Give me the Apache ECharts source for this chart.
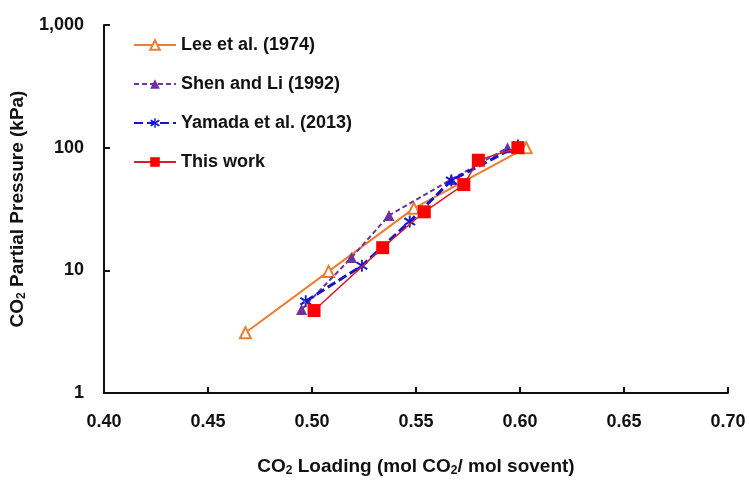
<!DOCTYPE html>
<html><head><meta charset="utf-8">
<script src="https://cdn.jsdelivr.net/npm/echarts@6/dist/echarts.min.js"></script>
<style>html,body{margin:0;padding:0;background:#fff}#c{width:749px;height:482px}</style>
</head><body><div id="c"></div>
<script>
const seriesNames = ['Lee et al. (1974)', 'Shen and Li (1992)', 'Yamada et al. (2013)', 'This work'];
const leeX = [0.468, 0.508, 0.549, 0.603];
const leeY = [3.1, 9.8, 32, 100];
const shenX = [0.495, 0.519, 0.537, 0.567, 0.594];
const shenY = [4.8, 12.7, 28, 55, 100];
const yamX = [0.497, 0.524, 0.547, 0.567, 0.599];
const yamY = [5.6, 10.9, 25, 54, 104];
const workX = [0.501, 0.534, 0.554, 0.573, 0.580, 0.599];
const workY = [4.7, 15.3, 30, 50, 79, 100];
const xTicks = [0.40, 0.45, 0.50, 0.55, 0.60, 0.65, 0.70];
const yTicks = [1, 10, 100, 1000];

const pair = (xs, ys) => xs.map((x, i) => [x, ys[i]]);
const asterisk = 'path://M4.3,0L5.7,0L5.7,10L4.3,10Z M0.4,2.8L1.4,1.4L9.6,7.2L8.6,8.6Z M0.4,7.2L1.4,8.6L9.6,2.8L8.6,1.4Z';
const font = 'Liberation Sans, Arial, sans-serif';
const subRich = {s: {fontFamily: font, fontWeight: 'bold', fontSize: 12, verticalAlign: 'bottom', padding: [9, 0, 0, 0], color: '#111'}};

const chart = echarts.init(document.getElementById('c'), null, {renderer: 'canvas'});
chart.setOption({
  animation: false,
  backgroundColor: '#fff',
  grid: {left: 101, right: 21, top: 25, bottom: 83, containLabel: false},
  legend: {
    orient: 'vertical', left: 128, top: 31, itemGap: 21, itemWidth: 42, itemHeight: 12,
    textStyle: {fontFamily: font, fontWeight: 'bold', fontSize: 18, color: '#111'},
    data: seriesNames
  },
  xAxis: {
    type: 'value', min: 0.4, max: 0.7, interval: 0.05,
    axisLine: {lineStyle: {color: '#111', width: 2}},
    axisTick: {inside: true, length: 6, lineStyle: {color: '#111', width: 2}},
    splitLine: {show: false},
    axisLabel: {formatter: v => v.toFixed(2), margin: 20, fontFamily: font, fontWeight: 'bold', fontSize: 18, color: '#111'},
    name: 'CO{s|2} Loading (mol CO{s|2}/ mol sovent)', nameLocation: 'middle', nameGap: 63,
    nameTextStyle: {fontFamily: font, fontWeight: 'bold', fontSize: 19, color: '#111', rich: subRich}
  },
  yAxis: {
    type: 'log', logBase: 10, min: 1, max: 1000,
    axisLine: {show: true, lineStyle: {color: '#111', width: 2}},
    axisTick: {show: true, inside: true, length: 6, lineStyle: {color: '#111', width: 2}},
    minorTick: {show: false},
    splitLine: {show: false},
    axisLabel: {formatter: v => v.toLocaleString('en-US'), margin: 20, fontFamily: font, fontWeight: 'bold', fontSize: 18, color: '#111'},
    name: 'CO{s|2} Partial Pressure (kPa)', nameLocation: 'middle', nameGap: 65, nameRotate: 90,
    nameTextStyle: {fontFamily: font, fontWeight: 'bold', fontSize: 19, color: '#111', rich: subRich}
  },
  series: [
    {name: seriesNames[0], type: 'line', data: pair(leeX, leeY), symbol: 'triangle', symbolSize: 11,
     itemStyle: {color: '#fff', borderColor: '#ED7D31', borderWidth: 2},
     lineStyle: {color: '#ED7D31', width: 2}, z: 2},
    {name: seriesNames[1], type: 'line', data: pair(shenX, shenY), symbol: 'triangle', symbolSize: 11,
     itemStyle: {color: '#7030A0'},
     lineStyle: {color: '#7030A0', width: 2, type: [5, 3]}, z: 3},
    {name: seriesNames[2], type: 'line', data: pair(yamX, yamY), symbol: asterisk, symbolSize: 12,
     itemStyle: {color: '#1515D0'},
     lineStyle: {color: '#1515D0', width: 3, type: [9, 4]}, z: 4},
    {name: seriesNames[3], type: 'line', data: pair(workX, workY), symbol: 'rect', symbolSize: 13,
     itemStyle: {color: '#FF0000'},
     lineStyle: {color: '#D0202A', width: 1.5}, z: 5}
  ]
});
</script></body></html>
